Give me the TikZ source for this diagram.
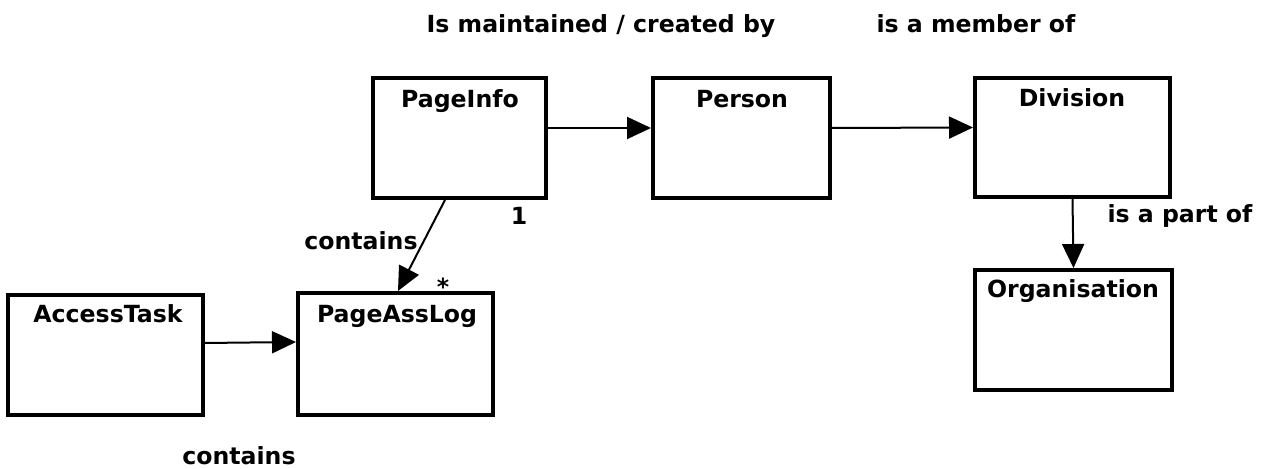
\documentclass[tikz,border=0pt]{standalone}
\usepackage{fontspec}
\setmainfont{DejaVu Sans}
\usetikzlibrary{arrows.meta}
\begin{document}
\begin{tikzpicture}[x=0.5pt,y=-0.5pt,
  box/.style={draw=black,line width=2pt,fill=white,inner sep=0pt},
  ttl/.style={font=\bfseries\fontsize{11.8}{13}\selectfont,anchor=base,inner sep=0pt},
  lbl/.style={font=\bfseries\fontsize{11.8}{13}\selectfont,anchor=base,inner sep=0pt},
  arr/.style={line width=1pt,-{Triangle[length=12pt,width=11pt]}}]
\useasboundingbox (0,0) rectangle (1269,469);
% boxes
\node[box,minimum width=86.5pt,minimum height=60pt] (pi) at (459.5,138) {};
\node[box,minimum width=88.5pt,minimum height=60pt] (pe) at (741.5,138) {};
\node[box,minimum width=97.5pt,minimum height=59.5pt] (dv) at (1072.5,137.5) {};
\node[box,minimum width=98.5pt,minimum height=60pt] (og) at (1073.5,330) {};
\node[box,minimum width=97.5pt,minimum height=60pt] (at) at (105.5,355) {};
\node[box,minimum width=97.5pt,minimum height=61pt] (pl) at (395.5,354) {};
% titles
\node[ttl] (tpi) at (460,108) {PageInfo};
\node[ttl] (tpe) at (742,108) {Person};
\node[ttl] (tdv) at (1072,107) {Division};
\node[ttl] (tog) at (1073,298) {Organisation};
\node[ttl] (tat) at (108,323) {AccessTask};
\node[ttl] (tpl) at (397,323) {PageAssLog};
% connectors
\draw[arr] ([yshift=5pt]pi.east) -- ([yshift=5pt]pe.west);
\draw[arr] ([yshift=5pt]pe.east) -- ([yshift=5pt]dv.west);
\draw[arr] (dv.south) -- (og.north);
\draw[arr] ([yshift=6pt]at.east) -- ([yshift=6pt]pl.west);
\draw[arr] ([xshift=-7.25pt]pi.south) -- ([xshift=1.25pt]pl.north);
% labels
\node[lbl] (l1) at (601,33) {Is maintained / created by};
\node[lbl] (l2) at (976,33) {is a member of};
\node[lbl] (l3) at (519,225) {1};
\node[lbl] (l4) at (361,250) {contains};
\node[lbl] (l5) at (443,296) {*};
\node[lbl] (l6) at (1180,223) {is a part of};
\node[lbl] (l7) at (239,465) {contains};
\end{tikzpicture}
\end{document}
